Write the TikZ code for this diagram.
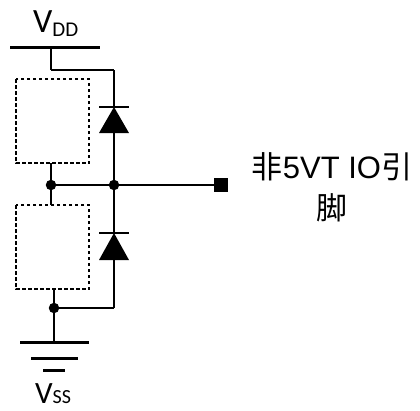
\documentclass[tikz,border=0pt]{standalone}
\usepackage{fontspec}
\setmainfont{Liberation Sans}
\newfontfamily\cjk{Noto Sans CJK SC}
\newfontfamily\calib{Carlito}
\begin{document}
\begin{tikzpicture}
[x=1pt,y=-1pt,line width=2.3pt,
dot/.style = {draw, circle, fill = black, inner sep = 0pt, minimum size = 8pt},
pin/.style = {draw, rectangle, fill = black, inner sep = 0pt, minimum size = 12pt},
part/.style = {line width = 1.8pt, dash pattern = on 3.5pt off 2.5pt},
rail/.style = {line width = 3pt},]
\useasboundingbox (0,0) rectangle (420,410);
% supply labels
\node (VDD) at (32,32)[anchor=base west,inner sep=0pt] {\calib\fontsize{34}{34}\selectfont V\raisebox{-4pt}{\fontsize{21}{21}\selectfont DD}};
\node (VSS) at (34,403)[anchor=base west,inner sep=0pt] {\calib\fontsize{31}{31}\selectfont V{\fontsize{20}{20}\selectfont SS}};
\node (IOtxt) at (332,187)[align=center,inner sep=0pt,font=\fontsize{31}{41}\selectfont] {{\cjk 非}5VT IO{\cjk 引}\\{\cjk 脚}};
% points
\coordinate (RL) at (10,47);
\coordinate (RR) at (100,47);
\coordinate (RT) at (51,47);
\coordinate (TJ) at (51,70);
\coordinate (TR) at (114,70);
\coordinate (D1k) at (114,107);
\coordinate (D1a) at (114,133);
\coordinate (B1b) at (51,163);
\node (ML) at (51,185)[dot] {};
\node (MR) at (114,185)[dot] {};
\node (IO) at (221,185)[pin] {};
\coordinate (B2t) at (51,205);
\coordinate (D2k) at (114,233);
\coordinate (D2a) at (114,260);
\coordinate (B2b) at (54,289);
\node (BL) at (54,308)[dot] {};
\coordinate (BR) at (114,308);
\coordinate (G) at (54,342);
% rails
\draw[rail] (RL)--(RR);
\draw[rail] (20,342)--(89,342);
\draw[rail] (31,358)--(78,358);
\draw[rail] (43,370)--(65,370);
% dashed parts
\draw[part] (16,79) rectangle (89,163);
\draw[part] (16,205) rectangle (89,289);
% diodes
\fill (D1a) ++(-15,0) -- ++(30,0) -- (D1k) -- cycle;
\draw (D1k) ++(-15,0) -- ++(30,0);
\fill (D2a) ++(-15,0) -- ++(30,0) -- (D2k) -- cycle;
\draw (D2k) ++(-15,0) -- ++(30,0);
% wires
\draw (RT)--(TJ);
\draw (TJ)--(TR);
\draw (TR)--(D1k);
\draw (D1a)--(MR);
\draw (MR)--(D2k);
\draw (D2a)--(BR);
\draw (BR)--(BL);
\draw (B1b)--(ML);
\draw (ML)--(B2t);
\draw (ML)--(MR);
\draw (MR)--(IO);
\draw (B2b)--(G);
\end{tikzpicture}
\end{document}
